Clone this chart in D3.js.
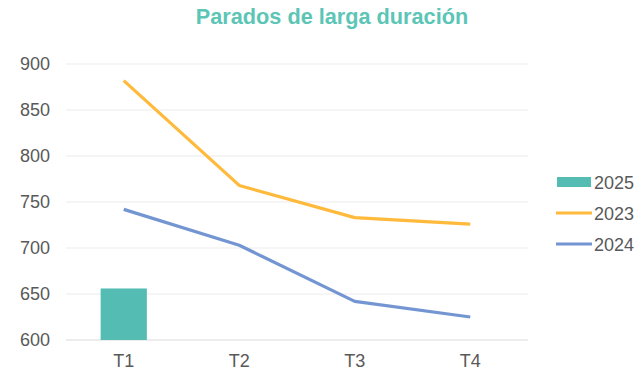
<!DOCTYPE html>
<html>
<head>
<meta charset="utf-8">
<script src="https://cdn.jsdelivr.net/npm/d3@7"></script>
<style>
  html, body { margin: 0; padding: 0; background: #fff; }
  svg { display: block; font-family: "Liberation Sans", Arial, sans-serif; }
</style>
</head>
<body>
<svg id="chart" width="644" height="372"></svg>
<script>
// Quarterly data: long-term unemployed (thousands)
const quarters = ["T1", "T2", "T3", "T4"];
const values2025 = [656];
const values2023 = [882, 768, 733, 726];
const values2024 = [742, 703, 642, 625];
const yTicks = [600, 650, 700, 750, 800, 850, 900];
const legendLabels = ["2025", "2023", "2024"];

const colors = { s2025: "#54BCB2", s2023: "#FFB93B", s2024: "#7396D2" };

const svg = d3.select("#chart");
const margin = { left: 66, right: 116, top: 64, bottom: 32 };
const W = 644, H = 372;

const x = d3.scaleBand().domain(quarters).range([margin.left, W - margin.right]);
const y = d3.scaleLinear().domain([600, 900]).range([H - margin.bottom, margin.top]);

// Title
svg.append("text")
  .attr("x", 332).attr("y", 24)
  .attr("text-anchor", "middle")
  .attr("font-size", 21.7).attr("font-weight", "bold")
  .attr("fill", "#5BC5B6")
  .text("Parados de larga duración");

// Gridlines
svg.append("g").selectAll("line").data(yTicks).join("line")
  .attr("x1", margin.left).attr("x2", W - margin.right)
  .attr("y1", d => y(d)).attr("y2", d => y(d))
  .attr("stroke", d => d === 600 ? "#d9d9d9" : "#ebebeb").attr("stroke-width", 1);

// Y axis labels
const yAxis = d3.axisLeft(y).tickValues(yTicks).tickSize(0).tickPadding(16);
const gy = svg.append("g").attr("transform", `translate(${margin.left},0)`).call(yAxis);
gy.select(".domain").remove();
gy.selectAll("text").attr("font-size", 18).attr("fill", "#595959")
  .attr("font-family", "'Liberation Sans', Arial, sans-serif");

// X axis labels
const xAxis = d3.axisBottom(x).tickSize(0).tickPadding(14);
const gx = svg.append("g").attr("transform", `translate(0,${H - margin.bottom})`).call(xAxis);
gx.select(".domain").remove();
gx.selectAll("text").attr("font-size", 18).attr("fill", "#595959")
  .attr("font-family", "'Liberation Sans', Arial, sans-serif");

// 2025 bars
const barW = x.bandwidth() * 0.4;
svg.append("g").selectAll("rect").data(values2025).join("rect")
  .attr("x", (d, i) => x(quarters[i]) + x.bandwidth() / 2 - barW / 2)
  .attr("y", d => y(d))
  .attr("width", barW)
  .attr("height", d => y(600) - y(d))
  .attr("fill", colors.s2025);

// Lines
const line = d3.line()
  .x((d, i) => x(quarters[i]) + x.bandwidth() / 2)
  .y(d => y(d));

svg.append("path").datum(values2023)
  .attr("d", line).attr("fill", "none")
  .attr("stroke", colors.s2023).attr("stroke-width", 3.2).attr("stroke-linejoin", "round");
svg.append("path").datum(values2024)
  .attr("d", line).attr("fill", "none")
  .attr("stroke", colors.s2024).attr("stroke-width", 3.2).attr("stroke-linejoin", "round");

// Legend
const legend = svg.append("g");
const legendY = [182, 213, 244];
legendLabels.forEach((lab, i) => {
  const g = legend.append("g").attr("transform", `translate(0,${legendY[i]})`);
  if (i === 0) {
    g.append("rect").attr("x", 557).attr("y", -5).attr("width", 34).attr("height", 10).attr("fill", colors.s2025);
  } else {
    g.append("line").attr("x1", 556).attr("x2", 592).attr("y1", 0).attr("y2", 0)
      .attr("stroke", i === 1 ? colors.s2023 : colors.s2024).attr("stroke-width", 3.2);
  }
  g.append("text").attr("x", 594).attr("y", 6.5).attr("font-size", 18).attr("fill", "#595959").text(lab);
});
</script>
</body>
</html>
